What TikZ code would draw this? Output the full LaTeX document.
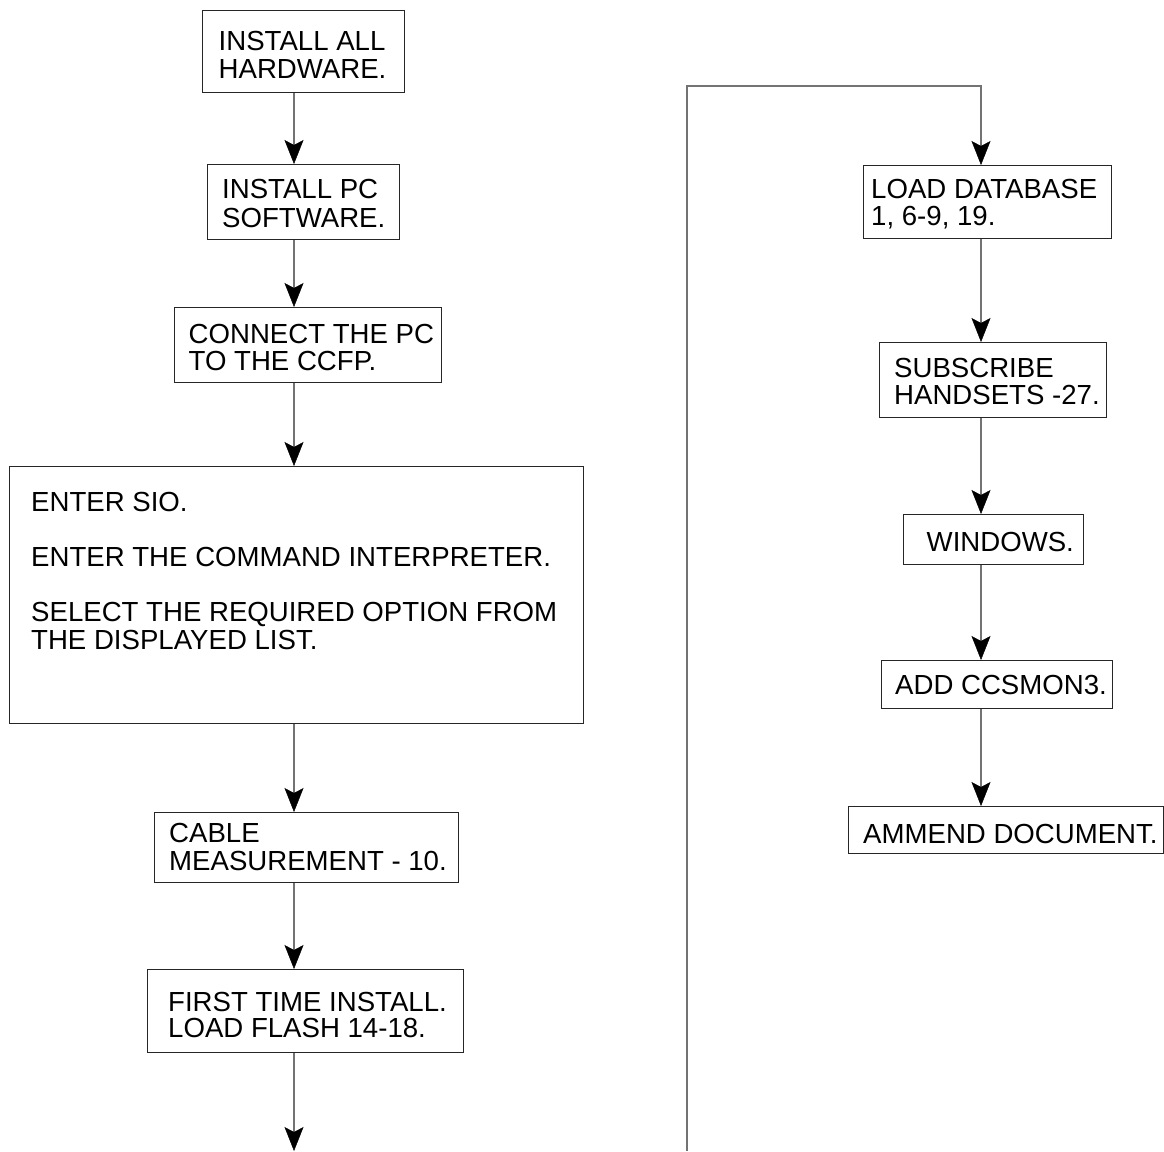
\documentclass[tikz,border=0pt]{standalone}
\usepackage{fontspec}
\setmainfont{Liberation Sans}
\usetikzlibrary{arrows.meta}

\begin{document}
\begin{tikzpicture}[x=1pt, y=-1pt,
  stepbox/.style={draw=black!85, line width=1.4pt, rectangle, inner sep=0pt, anchor=north west},
  txt/.style={anchor=base west, inner sep=0pt, font=\fontsize{27.6}{27.6}\selectfont},
  conn/.style={draw=black!55, line width=1.8pt},
  flow/.style={conn, -{Stealth[length=24pt, width=19pt, inset=5pt, color=black, fill=black, line width=0.5pt]}}
]
\useasboundingbox (0,0) rectangle (1164,1151);

% column guides
\coordinate (colL) at (294,0);
\coordinate (colR) at (981,0);

% left column boxes
\node[stepbox, minimum width=202pt, minimum height=82pt] (b1) at (202,10) {};
\node[stepbox, minimum width=192pt, minimum height=75pt] (b2) at (207,164) {};
\node[stepbox, minimum width=267pt, minimum height=75pt] (b3) at (174,307) {};
\node[stepbox, minimum width=574pt, minimum height=257pt] (b4) at (9,466) {};
\node[stepbox, minimum width=304pt, minimum height=70pt] (b5) at (154,812) {};
\node[stepbox, minimum width=316pt, minimum height=83pt] (b6) at (147,969) {};

% right column boxes
\node[stepbox, minimum width=248pt, minimum height=73pt] (r1) at (863,165) {};
\node[stepbox, minimum width=227pt, minimum height=75pt] (r2) at (879,342) {};
\node[stepbox, minimum width=180pt, minimum height=50pt] (r3) at (903,514) {};
\node[stepbox, minimum width=231pt, minimum height=48pt] (r4) at (881,660) {};
\node[stepbox, minimum width=315pt, minimum height=47pt] (r5) at (848,806) {};

% box texts
\node[txt] (t1a) at (218.5,50.7) {INSTALL ALL};
\node[txt] (t1b) at (218.5,78.7) {HARDWARE.};
\node[txt] (t2a) at (222,198.3) {INSTALL PC};
\node[txt] (t2b) at (222,227.3) {SOFTWARE.};
\node[txt] (t3a) at (188.5,343.3) {CONNECT THE PC};
\node[txt] (t3b) at (188.5,370) {TO THE CCFP.};
\node[txt] (t4a) at (31,511.7) {ENTER SIO.};
\node[txt] (t4b) at (31,566.7) {ENTER THE COMMAND INTERPRETER.};
\node[txt] (t4c) at (31,621.7) {SELECT THE REQUIRED OPTION FROM};
\node[txt] (t4d) at (31,649) {THE DISPLAYED LIST.};
\node[txt] (t5a) at (169,842.3) {CABLE};
\node[txt] (t5b) at (169,870) {MEASUREMENT - 10.};
\node[txt] (t6a) at (168,1011) {FIRST TIME INSTALL.};
\node[txt] (t6b) at (168,1037.3) {LOAD FLASH 14-18.};
\node[txt] (s1a) at (871,198.3) {LOAD DATABASE};
\node[txt] (s1b) at (871,225.7) {1, 6-9, 19.};
\node[txt] (s2a) at (894,377.7) {SUBSCRIBE};
\node[txt] (s2b) at (894,404.3) {HANDSETS -27.};
\node[txt] (s3a) at (926.5,551.7) {WINDOWS.};
\node[txt] (s4a) at (895,694) {ADD CCSMON3.};
\node[txt] (s5a) at (863,843) {AMMEND DOCUMENT.};

% left column connectors
\draw[flow] (b1.south -| colL) -- (b2.north -| colL);
\draw[flow] (b2.south -| colL) -- (b3.north -| colL);
\draw[flow] (b3.south -| colL) -- (b4.north -| colL);
\draw[flow] (b4.south -| colL) -- (b5.north -| colL);
\draw[flow] (b5.south -| colL) -- (b6.north -| colL);
\coordinate (endL) at (294,1151);
\draw[flow] (b6.south -| colL) -- (endL);

% continuation loop into the right column
\coordinate (loopBot) at (687,1151);
\coordinate (loopTop) at (687,86);
\draw[flow] (loopBot) -- (loopTop) -| (r1.north -| colR);

% right column connectors
\draw[flow] (r1.south -| colR) -- (r2.north -| colR);
\draw[flow] (r2.south -| colR) -- (r3.north -| colR);
\draw[flow] (r3.south -| colR) -- (r4.north -| colR);
\draw[flow] (r4.south -| colR) -- (r5.north -| colR);
\end{tikzpicture}
\end{document}
